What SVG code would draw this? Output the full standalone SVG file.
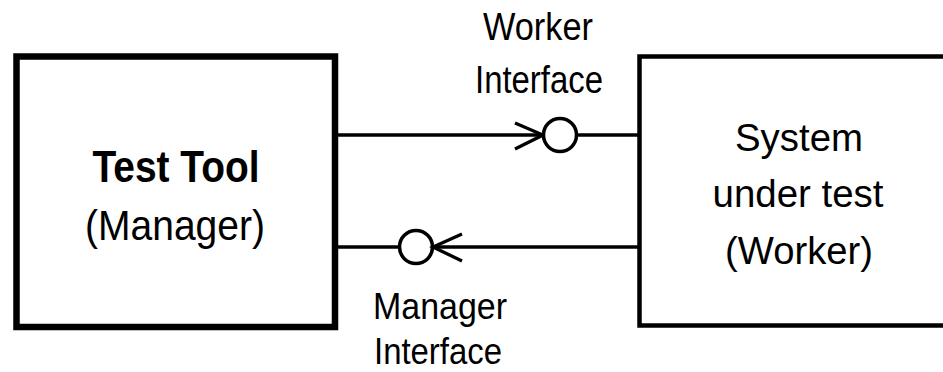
<svg xmlns="http://www.w3.org/2000/svg" width="943" height="372" viewBox="0 0 943 372">
<style>
text{font-family:"Liberation Sans",Arial,sans-serif;fill:#000;text-anchor:middle}
.ln{stroke:#000;stroke-width:3.3;fill:none}
.c{stroke:#000;stroke-width:3.5;fill:#fff}
</style>
<rect width="943" height="372" fill="#fff"/>
<g id="connectors">
<line class="ln" x1="338" y1="135" x2="543" y2="135"/>
<polyline class="ln" points="515,123 543,135 515,149"/>
<circle class="c" cx="560" cy="135" r="16.5"/>
<line class="ln" x1="577" y1="135" x2="639" y2="135"/>
<line class="ln" x1="338" y1="247" x2="400" y2="247"/>
<circle class="c" cx="416" cy="247" r="16.5"/>
<line class="ln" x1="433" y1="247" x2="639" y2="247"/>
<polyline class="ln" points="462,234 433,247 462,261"/>
<text x="538" y="40" font-size="38" textLength="110" lengthAdjust="spacingAndGlyphs">Worker</text>
<text x="539" y="93" font-size="38" textLength="128" lengthAdjust="spacingAndGlyphs">Interface</text>
<text x="440" y="319" font-size="36" textLength="134" lengthAdjust="spacingAndGlyphs">Manager</text>
<text x="438" y="364" font-size="36" textLength="128" lengthAdjust="spacingAndGlyphs">Interface</text>
</g>
<g id="test-tool">
<rect x="16.5" y="56.5" width="318.5" height="270.5" fill="none" stroke="#000" stroke-width="6.5"/>
<text x="176" y="182" font-size="44" font-weight="bold" textLength="167" lengthAdjust="spacingAndGlyphs">Test Tool</text>
<text x="175" y="240" font-size="42" textLength="180" lengthAdjust="spacingAndGlyphs">(Manager)</text>
</g>
<g id="system-under-test">
<rect x="639.5" y="56.5" width="310" height="269" fill="none" stroke="#000" stroke-width="4.5"/>
<text x="799" y="151" font-size="38" textLength="128" lengthAdjust="spacingAndGlyphs">System</text>
<text x="798" y="207" font-size="39" textLength="171" lengthAdjust="spacingAndGlyphs">under test</text>
<text x="799" y="264" font-size="39" textLength="148" lengthAdjust="spacingAndGlyphs">(Worker)</text>
</g>
</svg>
